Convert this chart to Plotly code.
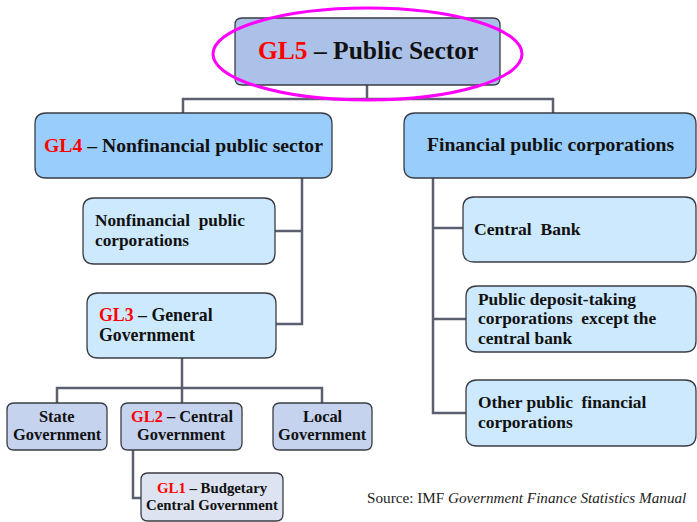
import plotly.graph_objects as go

# ---- content (data) ----
node_ids = ["gl5", "gl4", "fpc", "nfpc", "gl3", "cb", "pdtc", "opfc", "state", "gl2", "local", "gl1"]
node_tags = ["GL5", "GL4", "", "", "GL3", "", "", "", "", "GL2", "", "GL1"]
node_lines = [
    [" – Public Sector"],
    [" – Nonfinancial public sector"],
    ["Financial public corporations"],
    ["Nonfinancial  public", "corporations"],
    [" – General", "Government"],
    ["Central  Bank"],
    ["Public deposit-taking", "corporations  except the", "central bank"],
    ["Other public  financial", "corporations"],
    ["State", "Government"],
    [" – Central", "Government"],
    ["Local", "Government"],
    [" – Budgetary", "Central Government"],
]
edges = [("gl5", "gl4"), ("gl5", "fpc"), ("gl4", "nfpc"), ("gl4", "gl3"),
         ("fpc", "cb"), ("fpc", "pdtc"), ("fpc", "opfc"),
         ("gl3", "state"), ("gl3", "gl2"), ("gl3", "local"), ("gl2", "gl1")]
source_prefix = "Source: IMF "
source_title = "Government Finance Statistics Manual"

# ---- layout / style ----
W, H = 697, 522
box = {  # x0, y0, x1, y1
    "gl5": (235, 18, 500, 85),
    "gl4": (35, 113, 332, 178),
    "fpc": (404, 113, 696, 178),
    "nfpc": (83, 198, 275, 264),
    "gl3": (87, 293, 276, 358),
    "cb": (463, 197, 696, 262),
    "pdtc": (466, 286, 696, 352),
    "opfc": (466, 380, 696, 446),
    "state": (7, 403, 107, 450),
    "gl2": (121, 403, 242, 450),
    "local": (273, 403, 372, 450),
    "gl1": (141, 473, 283, 521),
}
fill = {"gl5": "#abc1e8", "gl4": "#99cdfb", "fpc": "#99cdfb", "nfpc": "#cde9fd",
        "gl3": "#cde9fd", "cb": "#cde9fd", "pdtc": "#cde9fd", "opfc": "#cde9fd",
        "state": "#c5d3ef", "gl2": "#c5d3ef", "local": "#c5d3ef", "gl1": "#dde3f0"}
fsize = {"gl5": 25.5, "gl4": 19.7, "fpc": 19.6, "nfpc": 17.3, "gl3": 17.8, "cb": 17.6,
         "pdtc": 17.4, "opfc": 17.4, "state": 16.4, "gl2": 16.4, "local": 16.4, "gl1": 14.8}
lspace = {"nfpc": 20, "gl3": 20, "pdtc": 19.5, "opfc": 20, "state": 18, "gl2": 18,
          "local": 18, "gl1": 17}
left_aligned = {"nfpc": 94, "gl3": 98, "cb": 473, "pdtc": 477, "opfc": 477}
radius = {"gl5": 7, "state": 7, "gl2": 7, "local": 7, "gl1": 7}

# connector routes (elbow polylines)
routes = [
    [(367, 85), (367, 99)],
    [(183, 113), (183, 99), (553, 99), (553, 113)],
    [(302, 178), (302, 324), (276, 324)],
    [(275, 231), (302, 231)],
    [(433, 178), (433, 413), (466, 413)],
    [(433, 228), (463, 228)],
    [(433, 319), (466, 319)],
    [(182, 358), (182, 388)],
    [(57, 403), (57, 388), (322, 388), (322, 403)],
    [(182, 388), (182, 403)],
    [(133, 450), (133, 498), (141, 498)],
]

SERIF = "Liberation Serif"


def rrect(x0, y0, x1, y1, r):
    return (f"M {x0+r},{y0} L {x1-r},{y0} Q {x1},{y0} {x1},{y0+r} "
            f"L {x1},{y1-r} Q {x1},{y1} {x1-r},{y1} L {x0+r},{y1} "
            f"Q {x0},{y1} {x0},{y1-r} L {x0},{y0+r} Q {x0},{y0} {x0+r},{y0} Z")


shapes = []
for rt in routes:
    p = "M " + " L ".join(f"{x},{y}" for x, y in rt)
    shapes.append(dict(type="path", path=p, xref="x", yref="y",
                       line=dict(color="#5b6070", width=2.5)))

annotations = []
for nid, tag, lines in zip(node_ids, node_tags, node_lines):
    x0, y0, x1, y1 = box[nid]
    shapes.append(dict(type="path", path=rrect(x0, y0, x1, y1, radius.get(nid, 11)),
                       xref="x", yref="y", fillcolor=fill[nid],
                       line=dict(color="#3a3d44", width=1.3)))
    n = len(lines)
    sp = lspace.get(nid, 20)
    cy = (y0 + y1) / 2 - 1
    for i, ln in enumerate(lines):
        txt = ln
        if i == 0 and tag:
            txt = f"<span style='color:#ff0000'>{tag}</span>" + ln
        txt = f"<b>{txt}</b>"
        y = cy + (i - (n - 1) / 2) * sp
        if nid in left_aligned:
            x, xa = left_aligned[nid], "left"
        else:
            x, xa = (x0 + x1) / 2, "center"
        annotations.append(dict(x=x, y=y, xref="x", yref="y", text=txt,
                                showarrow=False, xanchor=xa, yanchor="middle",
                                borderpad=0,
                                font=dict(family=SERIF, size=fsize[nid], color="#111111")))

# highlight ellipse around GL5
shapes.append(dict(type="circle", xref="x", yref="y", x0=213, x1=522, y0=8, y1=100,
                   line=dict(color="#ff00ff", width=3)))

annotations.append(dict(x=366, y=497, xref="x", yref="y",
                        text=f"{source_prefix}<i>{source_title}</i>",
                        showarrow=False, xanchor="left", yanchor="middle", borderpad=0,
                        font=dict(family=SERIF, size=15.2, color="#222222")))

fig = go.Figure()
fig.add_trace(go.Scatter(x=[0, W], y=[0, H], mode="markers", marker=dict(opacity=0),
                         hoverinfo="skip", showlegend=False))
fig.update_layout(
    width=W, height=H, margin=dict(l=0, r=0, t=0, b=0),
    paper_bgcolor="white", plot_bgcolor="white",
    xaxis=dict(range=[0, W], visible=False, fixedrange=True),
    yaxis=dict(range=[H, 0], visible=False, fixedrange=True),
    shapes=shapes, annotations=annotations, showlegend=False,
)
fig.write_html("out.html", config={"displayModeBar": False},
               post_script="document.body.style.margin='0';document.body.style.overflow='hidden';")
